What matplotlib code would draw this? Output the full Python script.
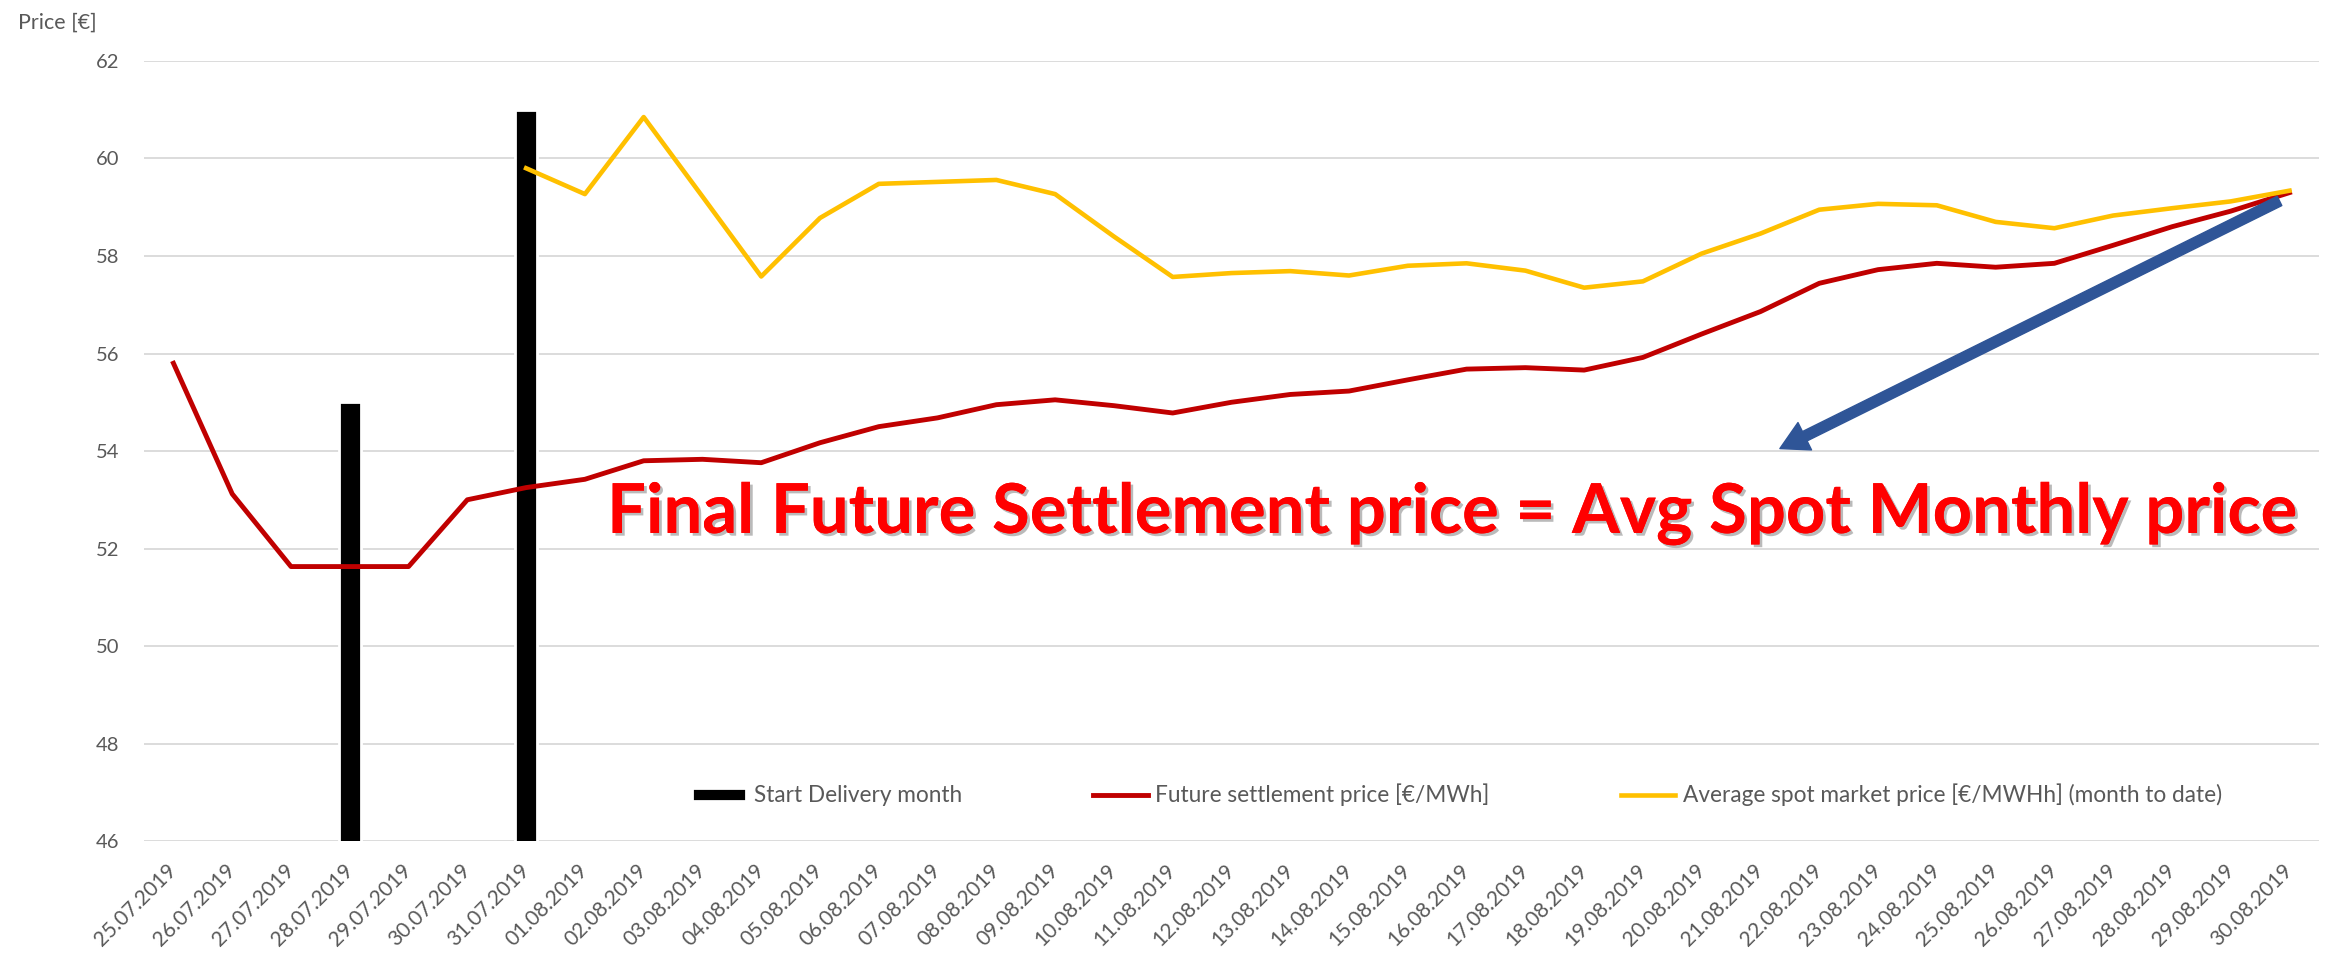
import numpy as np
import matplotlib.pyplot as plt
import matplotlib.patheffects as pe

plt.rcParams['font.family'] = ['Lato', 'DejaVu Sans']

dates = ['25.07.2019', '26.07.2019', '27.07.2019', '28.07.2019', '29.07.2019',
         '30.07.2019', '31.07.2019', '01.08.2019', '02.08.2019', '03.08.2019',
         '04.08.2019', '05.08.2019', '06.08.2019', '07.08.2019', '08.08.2019',
         '09.08.2019', '10.08.2019', '11.08.2019', '12.08.2019', '13.08.2019',
         '14.08.2019', '15.08.2019', '16.08.2019', '17.08.2019', '18.08.2019',
         '19.08.2019', '20.08.2019', '21.08.2019', '22.08.2019', '23.08.2019',
         '24.08.2019', '25.08.2019', '26.08.2019', '27.08.2019', '28.08.2019',
         '29.08.2019', '30.08.2019']

# black bars marking the start of delivery month
start_delivery = {'28.07.2019': 55, '31.07.2019': 61}

future_price = [55.8, 53.12, 51.63, 51.63, 51.63, 53.0, 53.25,
                53.42, 53.8, 53.83, 53.76, 54.17, 54.5, 54.68, 54.95, 55.05, 54.93,
                54.78, 55.0, 55.16, 55.23, 55.46, 55.68, 55.71, 55.66, 55.92, 56.4,
                56.86, 57.44, 57.72, 57.85, 57.77, 57.85, 58.22, 58.6, 58.92, 59.3]

spot_price = [None, None, None, None, None, None, 59.8,
              59.27, 60.85, 59.22, 57.58, 58.78, 59.48, 59.52, 59.56, 59.27, 58.4,
              57.57, 57.65, 57.69, 57.6, 57.8, 57.85, 57.7, 57.35, 57.48, 58.05,
              58.46, 58.95, 59.07, 59.04, 58.7, 58.57, 58.83, 58.98, 59.12, 59.34]

x = np.arange(len(dates))
bar_x = [dates.index(d) for d in start_delivery]
bar_h = list(start_delivery.values())
spot = np.array([np.nan if v is None else v for v in spot_price])

fig = plt.figure(figsize=(23.31, 9.59), dpi=100)
ax = fig.add_axes([0.0618, 0.123, 0.933, 0.8134])

bars = ax.bar(bar_x, bar_h, width=0.38, color='black', edgecolor='white', linewidth=2,
              zorder=2, label='Start Delivery month')
l1, = ax.plot(x, future_price, color='#C00000', lw=3.5, zorder=3,
              label='Future settlement price [€/MWh]')
l2, = ax.plot(x, spot, color='#FFC000', lw=3.3, zorder=3,
              label='Average spot market price [€/MWHh] (month to date)')

ax.set_xlim(-0.5, len(dates) - 0.5)
ax.set_ylim(46, 62)
ax.set_yticks(np.arange(46, 63, 2))
ax.set_xticks(x)
ax.set_xticklabels(dates, rotation=45, ha='right', va='center', rotation_mode='anchor')
ax.tick_params(axis='both', length=0, labelsize=14.5, colors='#595959')
ax.tick_params(axis='x', labelsize=15, pad=19)
ax.tick_params(axis='y', pad=18)
ax.grid(axis='y', color='#D9D9D9', lw=1.3)
ax.set_axisbelow(True)
for s in ax.spines.values():
    s.set_visible(False)

fig.text(18 / 2331, 1 - 23 / 959, 'Price [€]', fontsize=15.5, color='#595959',
         ha='left', va='center')

ax.annotate('', xy=(27.33, 54.05), xytext=(35.83, 59.13),
            arrowprops=dict(width=7.5, headwidth=22, headlength=20, shrink=0,
                            color='#2F5597'), zorder=4)

ax.text(0.6014, 0.395, 'Final Future Settlement price = Avg Spot Monthly price',
        transform=ax.transAxes, ha='center', va='baseline', fontsize=49.5,
        fontweight='bold', color='#FF0000', zorder=5,
        path_effects=[pe.withSimplePatchShadow(offset=(2, -2), shadow_rgbFace='#777777', alpha=0.5),
                      pe.Normal()])

ax.legend([bars, l1, l2], [bars.get_label(), l1.get_label(), l2.get_label()],
          loc='center', bbox_to_anchor=(0.6037, 0.059), ncol=3, frameon=False,
          fontsize=16.3, labelcolor='#595959', columnspacing=5.8, handlelength=2.4,
          handleheight=0.55, handletextpad=0.35)

fig.savefig('out.png', dpi=100)
